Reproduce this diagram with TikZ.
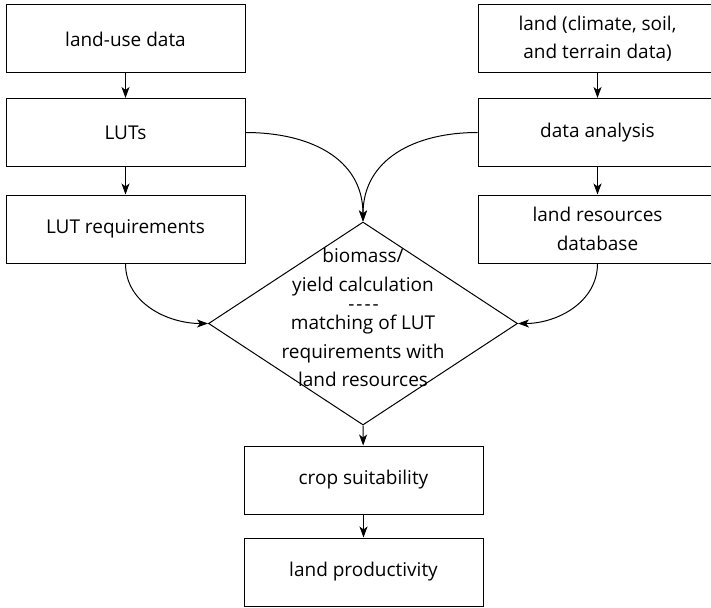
\documentclass[tikz,border=0pt]{standalone}
\usepackage{fontspec}
\setmainfont{Open Sans}
\usetikzlibrary{arrows.meta,shapes.geometric}
\begin{document}
\begin{tikzpicture}[x=1pt,y=-1pt,
  box/.style={draw, line width=1pt, minimum width=239pt, minimum height=68pt, inner sep=0pt, align=center, font=\fontsize{19}{28.5}\selectfont},
  dtext/.style={align=center, inner sep=0pt, font=\fontsize{19}{28.5}\selectfont},
  arr/.style={-{Stealth[length=11pt,width=8pt,inset=3pt]}, line width=1pt}]
\useasboundingbox (0,0) rectangle (711,607);
\node[box] (lud) at (125.5,39) {land-use data};
\node[box] (luts) at (125.5,132.5) {LUTs};
\node[box] (lutr) at (125.5,229) {LUT requirements};
\node[box] (land) at (597.5,39) {land (climate, soil,\\and terrain data)};
\node[box] (da) at (597.5,132.5) {data analysis};
\node[box] (lrd) at (597.5,229) {land resources\\database};
\node[draw, line width=1pt, shape=diamond, minimum width=309pt, minimum height=203pt, inner sep=0pt] (dia) at (363,323.5) {};
\node[dtext] (diat1) at (363,272) {biomass/\\yield calculation};
\node[dtext, font=\fontsize{19}{19}\selectfont, inner sep=0pt] (diad) at (363.5,310.5) {\smash{-\kern2pt-\kern2pt-\kern2pt-}};
\node[dtext] (diat2) at (363,351) {matching of LUT\\requirements with\\land resources};
\node[box] (cs) at (363.5,480) {crop suitability};
\node[box] (lp) at (363.5,572) {land productivity};
\draw[arr] (lud) -- (luts);
\draw[arr] (luts) -- (lutr);
\draw[arr] (land) -- (da);
\draw[arr] (da) -- (lrd);
\draw[arr] (luts.east) to[out=0,in=90,looseness=1.1] (dia.north);
\draw[arr] (da.west) to[out=180,in=90,looseness=1.1] (dia.north);
\draw[arr] (lutr.south) to[out=-90,in=180] (dia.west);
\draw[arr] (lrd.south) to[out=-90,in=0] (dia.east);
\draw[arr] (dia.south) -- (cs);
\draw[arr] (cs) -- (lp);
\end{tikzpicture}
\end{document}
